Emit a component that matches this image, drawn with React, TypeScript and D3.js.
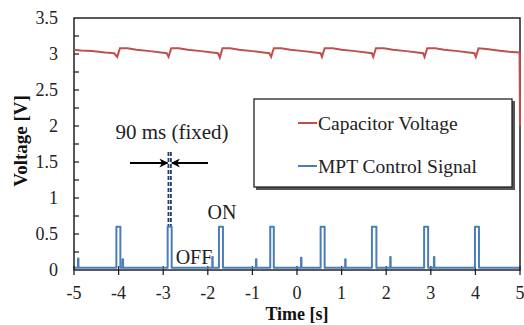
import React from 'react';
import * as d3 from 'd3';

// capacitor voltage (stair-step sawtooth)
const capTime = [
  -5.0, -4.85, -4.6, -4.3, -4.1, -4.03, -3.97, -3.8, -3.6, -3.3, -3.05, -2.92, -2.88, -2.82,
  -2.65, -2.45, -2.15, -1.9, -1.77, -1.73, -1.67, -1.5, -1.3, -1.0, -0.75, -0.62, -0.58, -0.52,
  -0.35, -0.15, 0.15, 0.4, 0.53, 0.56, 0.62, 0.8, 1.0, 1.3, 1.55, 1.68, 1.71, 1.77,
  1.95, 2.15, 2.45, 2.7, 2.83, 2.86, 2.92, 3.1, 3.3, 3.6, 3.85, 3.98, 4.01, 4.07,
  4.25, 4.5, 4.75, 4.99, 5.0,
];
const capVolt = [
  3.06, 3.05, 3.04, 3.02, 3.01, 2.96, 3.08, 3.08, 3.06, 3.04, 3.02, 3.01, 2.96, 3.08,
  3.08, 3.06, 3.04, 3.02, 3.01, 2.95, 3.08, 3.08, 3.06, 3.04, 3.02, 3.01, 2.96, 3.08,
  3.08, 3.06, 3.04, 3.02, 3.01, 2.96, 3.08, 3.08, 3.06, 3.04, 3.02, 3.01, 2.96, 3.08,
  3.08, 3.06, 3.04, 3.02, 3.01, 2.96, 3.08, 3.08, 3.06, 3.04, 3.02, 3.01, 2.96, 3.08,
  3.07, 3.05, 3.03, 3.02, 2.0,
];

// MPT control signal: ON pulses (start/end) and small spikes
const pulseStart = [-4.05, -2.9, -1.75, -0.6, 0.53, 1.68, 2.85, 3.99];
const pulseEnd = [-3.96, -2.81, -1.66, -0.52, 0.62, 1.78, 2.94, 4.08];
const pulseLevel = 0.6;
const spikeTime = [-4.91, -3.91, -1.9, -0.92, 0.09, 1.08, 2.09, 3.07];
const spikeLevel = [0.16, 0.15, 0.18, 0.15, 0.17, 0.15, 0.18, 0.18];
const baseLevel = 0.03;

const xTicks = [-5, -4, -3, -2, -1, 0, 1, 2, 3, 4, 5];
const yLabels = [0, 0.5, 1, 1.5, 2, 2.5, 3, 3.5];
const yTicks = [0.25, 0.5, 0.75, 1, 1.25, 1.5, 1.75, 2, 2.25, 2.5, 2.75, 3, 3.25];

const RED = '#c0504d';
const BLUE = '#4a7ebb';
const NAVY = '#1f3b7a';
const serif = { fontFamily: "'Liberation Serif', serif" };

const W = 524, H = 325;
const m = { top: 18, right: 4, bottom: 55, left: 74 };

export default function App() {
  const x = d3.scaleLinear().domain([-5, 5]).range([m.left, W - m.right]);
  const y = d3.scaleLinear().domain([0, 3.5]).range([H - m.bottom, m.top]);

  const capPts: [number, number][] = capTime.map((t, i) => [t, capVolt[i]]);

  // build the step signal from the events
  const events = [
    ...pulseStart.map((s, i) => ({ t: s, kind: 'p', i })),
    ...spikeTime.map((s, i) => ({ t: s, kind: 's', i })),
  ].sort((a, b) => a.t - b.t);
  const sig: [number, number][] = [[-5, baseLevel]];
  events.forEach(e => {
    if (e.kind === 'p') {
      sig.push([e.t, baseLevel], [e.t, pulseLevel], [pulseEnd[e.i], pulseLevel], [pulseEnd[e.i], baseLevel]);
    } else {
      sig.push([e.t, baseLevel], [e.t, spikeLevel[e.i]], [e.t + 0.01, spikeLevel[e.i]], [e.t + 0.01, baseLevel]);
    }
  });
  sig.push([5, baseLevel]);

  const line = d3.line<[number, number]>().x(d => x(d[0])).y(d => y(d[1]));

  const x0 = x(-5), x1 = x(5), y0 = y(0), y1 = y(3.5);

  // annotation sits on the ON pulse at about -2.86 s
  const dl = x(pulseStart[1]) + 0.8, dr = x(pulseEnd[1]) - 0.8;
  const arrowY = 163;

  return (
    <svg width={W} height={H} style={{ position: 'absolute', left: 0, top: 0, background: '#fff' }}>
      <defs>
        <marker id="ah" viewBox="0 0 10 10" refX="9" refY="5" markerWidth="5" markerHeight="5" orient="auto">
          <path d="M0,0 L10,5 L0,10 L3,5 Z" fill="#000" />
        </marker>
      </defs>

      {/* y ticks inside */}
      {yTicks.map(t => (
        <line key={'yt' + t} x1={x0} x2={x0 + 5} y1={y(t)} y2={y(t)} stroke="#222" strokeWidth={1.3} />
      ))}
      {yLabels.map(t => (
        <text key={'yl' + t} x={58} y={y(t)} dy="0.35em" textAnchor="end" style={serif} fontSize={18} fill="#222">
          {t}
        </text>
      ))}
      {xTicks.map(t => (
        <g key={'xt' + t}>
          <line x1={x(t)} x2={x(t)} y1={y0 - 4} y2={y0 + 5} stroke="#222" strokeWidth={1.3} />
          <text x={x(t)} y={299} textAnchor="middle" style={serif} fontSize={18} fill="#222">
            {t}
          </text>
        </g>
      ))}

      {/* legend box */}
      <rect x={256} y={101} width={259} height={89} fill="#555" />
      <rect x={254} y={99} width={258} height={88} fill="#fff" stroke="#222" strokeWidth={1.3} />
      <line x1={298} x2={317} y1={123} y2={123} stroke={RED} strokeWidth={2} />
      <text x={318} y={130} style={serif} fontSize={19.5} fill="#222">Capacitor Voltage</text>
      <line x1={298} x2={317} y1={166} y2={166} stroke={BLUE} strokeWidth={2} />
      <text x={318} y={173} style={serif} fontSize={19.5} fill="#222">MPT Control Signal</text>

      {/* annotation */}
      <text x={172} y={139} textAnchor="middle" style={serif} fontSize={21} fill="#222">90 ms (fixed)</text>
      <line x1={dl} x2={dl} y1={152} y2={226} stroke={NAVY} strokeWidth={1.8} strokeDasharray="4,2" />
      <line x1={dr} x2={dr} y1={152} y2={226} stroke={NAVY} strokeWidth={1.8} strokeDasharray="4,2" />
      <line x1={130} x2={dl - 1} y1={arrowY} y2={arrowY} stroke="#000" strokeWidth={1.8} markerEnd="url(#ah)" />
      <line x1={208} x2={dr + 1} y1={arrowY} y2={arrowY} stroke="#000" strokeWidth={1.8} markerEnd="url(#ah)" />
      <text x={222} y={219} textAnchor="middle" style={serif} fontSize={20} fill="#222">ON</text>
      <text x={194} y={264} textAnchor="middle" style={serif} fontSize={20} fill="#222">OFF</text>

      {/* series */}
      <path d={line(sig) ?? ''} fill="none" stroke={BLUE} strokeWidth={2} strokeLinejoin="round" />

      {/* frame */}
      <rect x={x0} y={y1} width={x1 - x0} height={y0 - y1} fill="none" stroke="#222" strokeWidth={1.5} />

      <path d={line(capPts) ?? ''} fill="none" stroke={RED} strokeWidth={2} />

      {/* axis titles */}
      <text x={297} y={320} textAnchor="middle" style={serif} fontSize={18} fontWeight="bold" fill="#111">Time [s]</text>
      <text transform={`translate(27,141) rotate(-90)`} textAnchor="middle" style={serif} fontSize={19} fontWeight="bold" fill="#111">
        Voltage [V]
      </text>
    </svg>
  );
}
